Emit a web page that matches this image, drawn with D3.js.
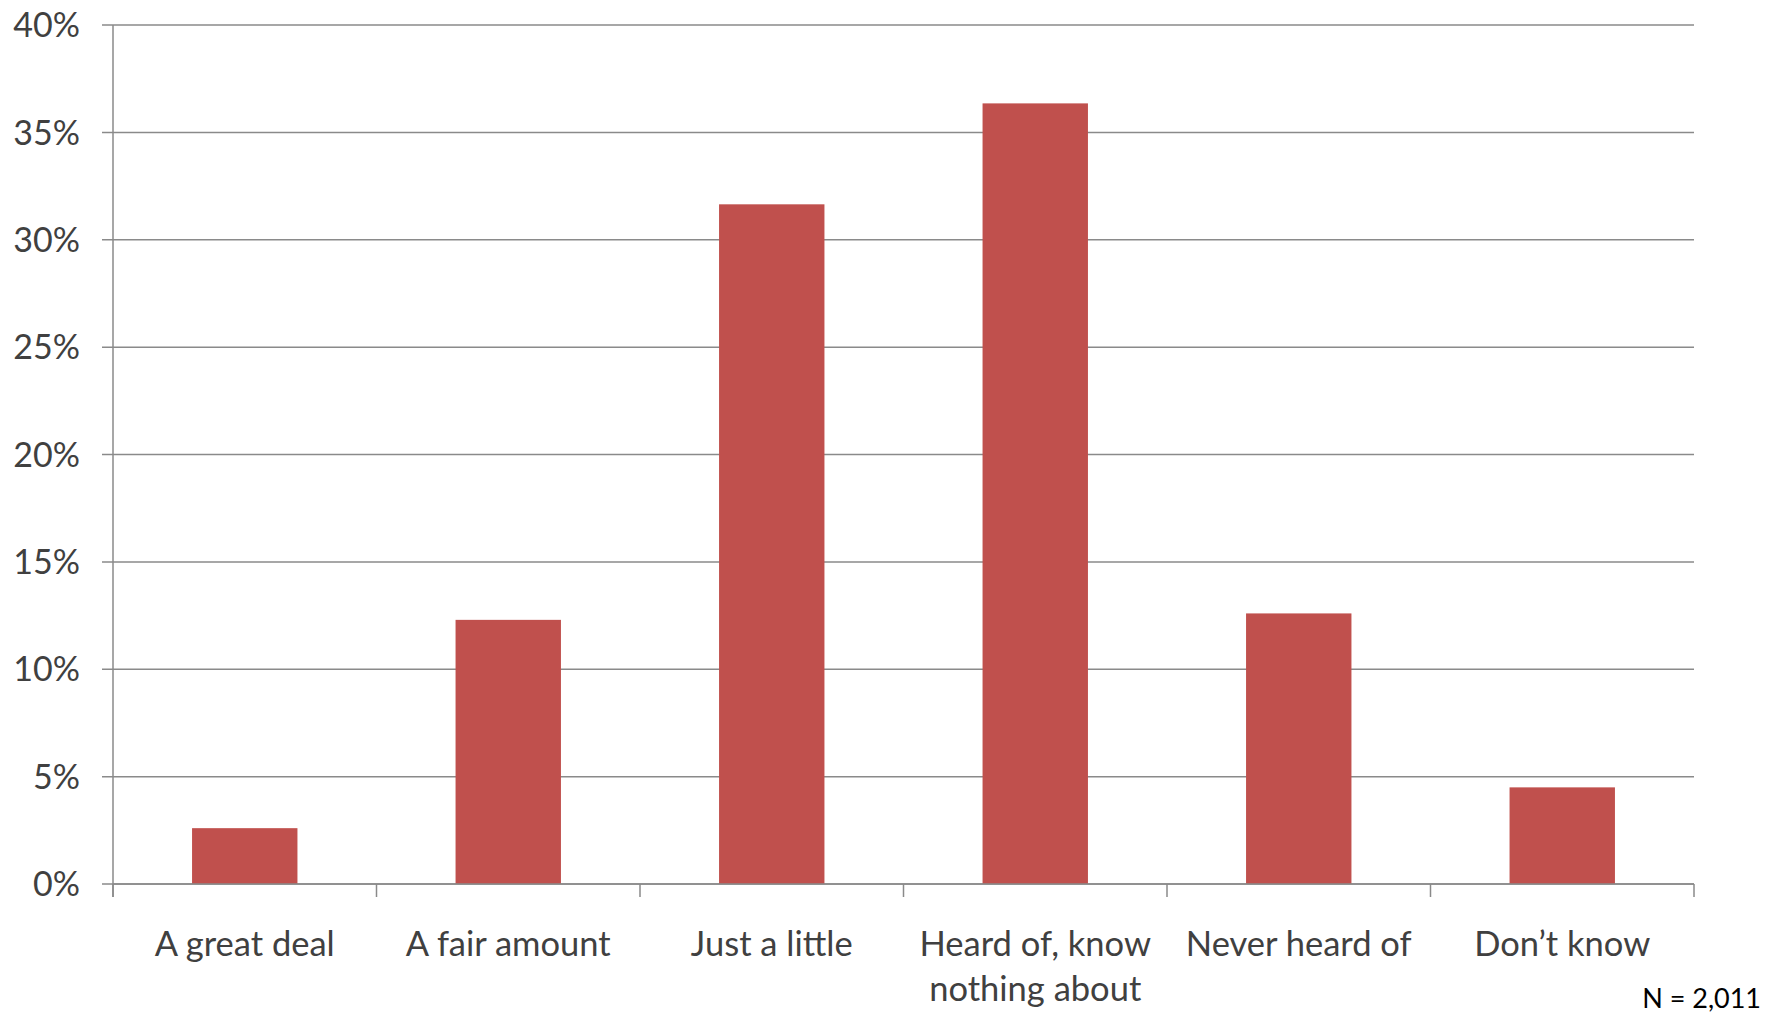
<!DOCTYPE html>
<html>
<head>
<meta charset="utf-8">
<script src="https://cdn.jsdelivr.net/npm/d3@7"></script>
<style>
  body { margin: 0; background: #fff; }
  svg text { font-family: Lato, "Open Sans", sans-serif; }
</style>
</head>
<body>
<div id="chart"></div>
<script>
// answers and share of respondents
var categories = ["A great deal", "A fair amount", "Just a little", "Heard of, know nothing about", "Never heard of", "Don\u2019t know"];
var catLines = [["A great deal"], ["A fair amount"], ["Just a little"], ["Heard of, know", "nothing about"], ["Never heard of"], ["Don\u2019t know"]];
var values = [2.6, 12.3, 31.65, 36.35, 12.6, 4.5];
var yTicks = [0, 5, 10, 15, 20, 25, 30, 35, 40];
var note = "N = 2,011";

var W = 1780, H = 1016;
var margin = {top: 25, right: 86, bottom: 132, left: 113};
var width = W - margin.left - margin.right,
    height = H - margin.top - margin.bottom;

var svg = d3.select("#chart").append("svg")
    .attr("width", W)
    .attr("height", H);
var g = svg.append("g")
    .attr("transform", "translate(" + margin.left + "," + margin.top + ")");

var x = d3.scaleBand().domain(categories).range([0, width])
    .paddingInner(0.6).paddingOuter(0.3);
var y = d3.scaleLinear().domain([0, 40]).range([height, 0]);

// gridlines
g.append("g").selectAll("line").data(yTicks).enter()
    .append("line")
    .attr("x1", -11).attr("x2", width)
    .attr("y1", function(d) { return y(d); })
    .attr("y2", function(d) { return y(d); })
    .style("stroke", "#8a8a8a")
    .style("stroke-width", 1.5);

// y labels
g.append("g").selectAll("text").data(yTicks).enter()
    .append("text")
    .attr("x", -33)
    .attr("y", function(d) { return y(d); })
    .attr("dy", "0.36em")
    .attr("text-anchor", "end")
    .style("font-size", "34px")
    .style("fill", "#404040")
    .text(function(d) { return d + "%"; });

// bars
g.append("g").selectAll("rect").data(values).enter()
    .append("rect")
    .attr("x", function(d, i) { return x(categories[i]); })
    .attr("y", function(d) { return y(d); })
    .attr("width", x.bandwidth())
    .attr("height", function(d) { return height - y(d); })
    .style("fill", "#c0504d");

// axes lines
g.append("line")
    .attr("x1", 0).attr("x2", 0).attr("y1", 0).attr("y2", height + 13)
    .style("stroke", "#8a8a8a").style("stroke-width", 1.5);
g.append("line")
    .attr("x1", 0).attr("x2", width).attr("y1", height).attr("y2", height)
    .style("stroke", "#8a8a8a").style("stroke-width", 1.5);

// category boundary ticks
var step = x.step();
var bounds = d3.range(categories.length + 1).map(function(i) {
    return x(categories[0]) - step * x.paddingInner() / 2 + i * step;
});
g.append("g").selectAll("line").data(bounds).enter()
    .append("line")
    .attr("x1", function(d) { return d; })
    .attr("x2", function(d) { return d; })
    .attr("y1", height).attr("y2", height + 13)
    .style("stroke", "#8a8a8a").style("stroke-width", 1.5);

// category labels
var lab = g.append("g").selectAll("text").data(catLines).enter()
    .append("text")
    .attr("text-anchor", "middle")
    .style("font-size", "34.5px")
    .style("fill", "#404040")
    .attr("transform", function(d, i) {
        return "translate(" + (x(categories[i]) + x.bandwidth() / 2) + "," + (height + 72) + ")";
    });
lab.selectAll("tspan").data(function(d) { return d; }).enter()
    .append("tspan")
    .attr("x", 0)
    .attr("dy", function(d, i) { return i === 0 ? 0 : 45; })
    .text(function(d) { return d; });

svg.append("text")
    .attr("x", 1761)
    .attr("y", 1008)
    .attr("text-anchor", "end")
    .style("font-size", "27px")
    .style("fill", "#000")
    .text(note);
</script>
</body>
</html>
